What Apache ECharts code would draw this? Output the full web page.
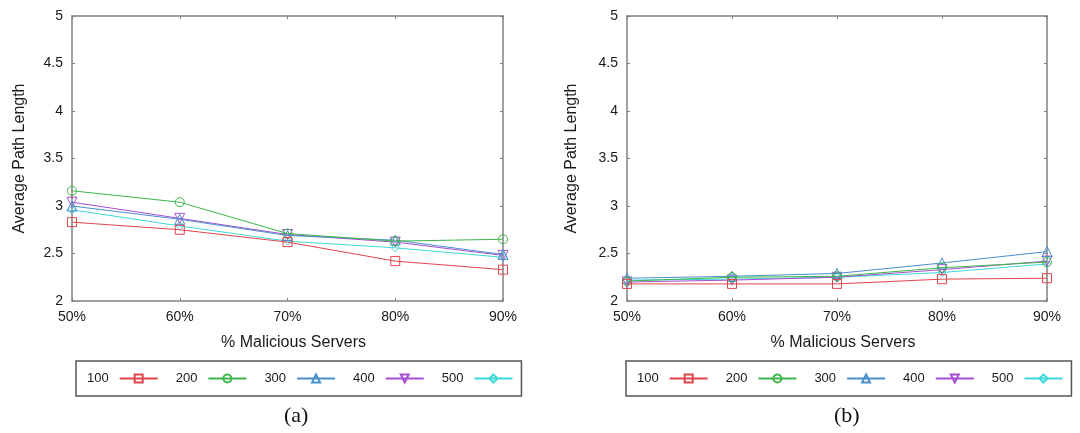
<!DOCTYPE html>
<html>
<head>
<meta charset="utf-8">
<script src="https://cdn.jsdelivr.net/npm/echarts@6/dist/echarts.min.js"></script>
<style>
  html, body { margin: 0; padding: 0; background: #fff; }
  #chart { width: 1080px; height: 433px; }
</style>
</head>
<body>
<div id="chart"></div>
<script>
// x categories and series names
const categories = ['50%', '60%', '70%', '80%', '90%']
const seriesNames = ['100', '200', '300', '400', '500']
const yTicks = [2, 2.5, 3, 3.5, 4, 4.5, 5]

// panel (a)
const a100 = [2.83, 2.75, 2.62, 2.42, 2.33]
const a200 = [3.16, 3.04, 2.71, 2.63, 2.65]
const a300 = [3.00, 2.86, 2.69, 2.64, 2.49]
const a400 = [3.04, 2.87, 2.70, 2.62, 2.48]
const a500 = [2.96, 2.79, 2.63, 2.56, 2.46]

// panel (b)
const b100 = [2.18, 2.18, 2.18, 2.23, 2.24]
const b200 = [2.21, 2.25, 2.26, 2.35, 2.41]
const b300 = [2.24, 2.26, 2.29, 2.40, 2.52]
const b400 = [2.20, 2.22, 2.25, 2.33, 2.42]
const b500 = [2.22, 2.23, 2.25, 2.30, 2.39]

const panelA = [a100, a200, a300, a400, a500]
const panelB = [b100, b200, b300, b400, b500]

const colors = ['#e0464c', '#3db54a', '#4a8fcc', '#a84ed2', '#3fd8d8']
const symbols = ['rect', 'circle', 'triangle', 'triangle', 'diamond']
const symbolRotates = [0, 0, 0, 180, 0]
const symbolSizes = [9, 9, 10, 10, 8]

const font = 'Liberation Sans, Arial, sans-serif'
const frameColor = '#808080'

const grids = [
  { left: 72, top: 16, width: 431, height: 285 },
  { left: 627, top: 16, width: 420, height: 285 },
]

function bottomAxis(gridIndex) {
  return {
    type: 'category',
    gridIndex,
    data: categories,
    boundaryGap: false,
    name: '% Malicious Servers',
    nameLocation: 'middle',
    nameGap: 34,
    nameTextStyle: { fontFamily: font, fontSize: 16, color: '#1a1a1a', padding: [0, 0, 0, 12] },
    axisLine: { lineStyle: { color: frameColor, width: 1.5 } },
    axisTick: { inside: true, length: 3, lineStyle: { color: frameColor } },
    axisLabel: { fontFamily: font, fontSize: 14, color: '#1a1a1a', margin: 9 },
    splitLine: { show: false },
  }
}

function topAxis(gridIndex) {
  return {
    type: 'category',
    gridIndex,
    position: 'top',
    data: categories,
    boundaryGap: false,
    axisLine: { lineStyle: { color: frameColor, width: 1.5 } },
    axisTick: { inside: true, length: 3, lineStyle: { color: frameColor } },
    axisLabel: { show: false },
    splitLine: { show: false },
  }
}

function leftAxis(gridIndex) {
  return {
    type: 'value',
    gridIndex,
    min: yTicks[0],
    max: yTicks[yTicks.length - 1],
    interval: 0.5,
    name: 'Average Path Length',
    nameLocation: 'middle',
    nameGap: gridIndex === 0 ? 44 : 47,
    nameTextStyle: { fontFamily: font, fontSize: 16, color: '#1a1a1a' },
    axisLine: { show: true, lineStyle: { color: frameColor, width: 1.5 } },
    axisTick: { show: true, inside: true, length: 3, lineStyle: { color: frameColor } },
    axisLabel: { fontFamily: font, fontSize: 14, color: '#1a1a1a', margin: 9 },
    splitLine: { show: false },
  }
}

function rightAxis(gridIndex) {
  return {
    type: 'value',
    gridIndex,
    position: 'right',
    min: yTicks[0],
    max: yTicks[yTicks.length - 1],
    interval: 0.5,
    axisLine: { show: true, lineStyle: { color: frameColor, width: 1.5 } },
    axisTick: { show: true, inside: true, length: 3, lineStyle: { color: frameColor } },
    axisLabel: { show: false },
    splitLine: { show: false },
  }
}

function makeSeries(panel, axisIndex) {
  return panel.map((values, i) => ({
    name: seriesNames[i],
    type: 'line',
    xAxisIndex: axisIndex,
    yAxisIndex: axisIndex,
    data: values,
    symbol: symbols[i],
    symbolRotate: symbolRotates[i],
    symbolSize: symbolSizes[i],
    showAllSymbol: true,
    lineStyle: { color: colors[i], width: 1 },
    itemStyle: { color: 'transparent', borderColor: colors[i], borderWidth: 1 },
    emphasis: { disabled: true },
    z: 5 - i,
  }))
}

function makeLegend(left) {
  return {
    left,
    top: 361,
    orient: 'horizontal',
    align: 'right',
    data: seriesNames,
    itemWidth: 38,
    itemHeight: 10,
    itemGap: 17,
    padding: [11, 8, 11, 11],
    borderColor: '#555',
    borderWidth: 1.5,
    borderRadius: 0,
    selectedMode: false,
    textStyle: { fontFamily: font, fontSize: 13, color: '#1a1a1a', padding: [0, 6, 0, 0] },
  }
}

const chart = echarts.init(document.getElementById('chart'), null, { renderer: 'canvas' })

const option = {
  backgroundColor: '#fff',
  animation: false,
  grid: grids.map((g) => ({ ...g, show: false, containLabel: false })),
  xAxis: [bottomAxis(0), bottomAxis(1), topAxis(0), topAxis(1)],
  yAxis: [leftAxis(0), leftAxis(1), rightAxis(0), rightAxis(1)],
  legend: [makeLegend(76), makeLegend(626)],
  series: [...makeSeries(panelA, 0), ...makeSeries(panelB, 1)],
  graphic: [
    { type: 'text', left: 284, top: 405, style: { text: '(a)', font: '22px "Liberation Serif", "Times New Roman", serif', fill: '#111' } },
    { type: 'text', left: 834, top: 405, style: { text: '(b)', font: '22px "Liberation Serif", "Times New Roman", serif', fill: '#111' } },
  ],
}

chart.setOption(option)
</script>
</body>
</html>
